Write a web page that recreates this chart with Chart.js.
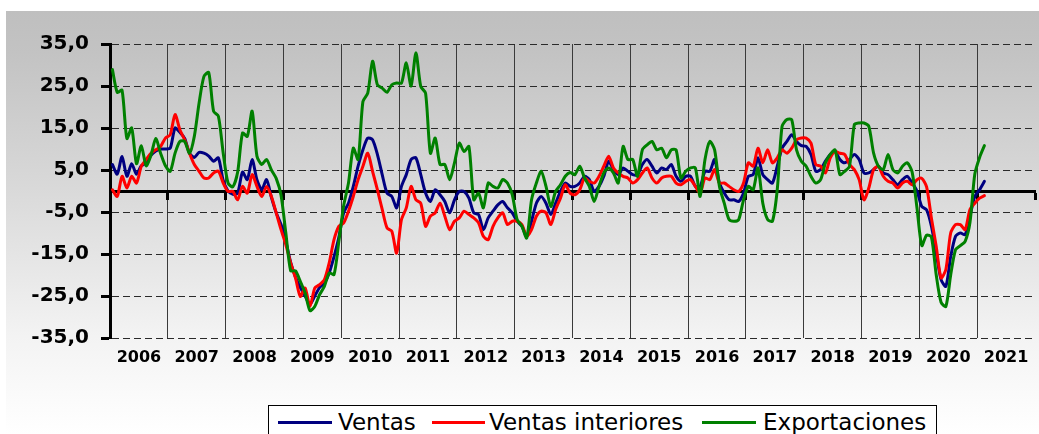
<!DOCTYPE html>
<html>
<head>
<meta charset="utf-8">
<script src="https://cdn.jsdelivr.net/npm/chart.js@4.4.1/dist/chart.umd.min.js"></script>
<style>
  html, body { margin: 0; padding: 0; background: #fff; }
  #wrap { position: relative; width: 1039px; height: 434px; overflow: hidden; }
  #bg {
    position: absolute; left: 6px; top: 11px; width: 1033px; height: 423px;
    background: linear-gradient(to bottom, #bfbfbf 0%, #c3c3c3 10%, #d9d9d9 42%, #f3f3f3 77%, #ffffff 100%);
  }
  #chart { position: absolute; left: 0; top: 0; }
  #legend {
    position: absolute; left: 268px; top: 405px; width: 669px; height: 40px;
    box-sizing: border-box; border: 1px solid #000; background: #fff;
    font-family: 'DejaVu Sans', sans-serif; font-size: 23px; color: #000;
  }
  #legend .sw { position: absolute; top: 15px; height: 3px; }
  #legend .lb { position: absolute; top: 3px; white-space: nowrap; }
</style>
</head>
<body>
<div id="wrap">
  <div id="bg"></div>
  <canvas id="chart" width="1039" height="434"></canvas>
  <div id="legend">
    <span class="sw" style="left:9px;width:54px;background:#000080"></span>
    <span class="lb" style="left:69px">Ventas</span>
    <span class="sw" style="left:163px;width:53px;background:#ff0000"></span>
    <span class="lb" style="left:220px">Ventas interiores</span>
    <span class="sw" style="left:433px;width:54px;background:#008000"></span>
    <span class="lb" style="left:494px">Exportaciones</span>
  </div>
</div>
<script>
  // años del eje (datos mensuales ene-2006 .. feb-2021)
  const years = ['2006', '2007', '2008', '2009', '2010', '2011', '2012', '2013',
                 '2014', '2015', '2016', '2017', '2018', '2019', '2020', '2021'];
  const yTicks = [-35, -25, -15, -5, 5, 15, 25, 35];

  const ventas = [
    6.3, 4.0, 8.2, 3.5, 6.5, 4.0, 6.0, 6.7, 8.5, 9.5, 10.0, 10.0,
    10.2, 15.0, 14.0, 12.5, 9.0, 8.0, 9.2, 9.0, 8.3, 7.1, 7.9, 2.5,
    0.0, -0.8, -0.5, 4.5, 2.7, 7.5, 2.7, 0.3, 2.7, -1.5, -5.2, -8.0,
    -12.0, -17.0, -20.5, -23.0, -25.0, -27.0, -25.0, -23.0, -22.0, -19.5, -15.6, -11.0,
    -5.2, -2.9, 1.1, 5.9, 9.8, 12.6, 12.2, 8.7, 3.9, -0.5, -1.3, -4.0,
    1.1, 3.9, 7.5, 7.9, 3.9, -0.5, -2.5, 0.3, -0.9, -2.5, -5.2, -2.1,
    -0.1, -0.1, -1.7, -5.2, -5.6, -9.2, -6.4, -4.8, -3.3, -2.5, -4.0, -5.2,
    -7.2, -8.4, -10.8, -7.2, -2.9, -1.3, -2.9, -5.6, -2.9, -0.1, 1.9, 1.1,
    1.1, 1.9, 3.5, 2.7, -0.1, 1.1, 3.5, 7.1, 5.1, 3.9, 5.5, 4.7,
    3.9, 3.9, 6.3, 7.5, 5.9, 4.3, 5.5, 5.1, 6.3, 3.5, 2.3, 3.5,
    3.5, 1.1, 1.1, 4.7, 4.7, 7.5, 1.9, -0.5, -2.1, -2.1, -2.5, -0.5,
    3.5, 3.9, 7.9, 3.9, 2.7, 1.9, 5.9, 10.2, 11.8, 13.4, 11.8, 10.8,
    10.6, 8.7, 4.7, 5.1, 7.1, 8.7, 9.4, 7.5, 6.7, 7.5, 8.7, 7.5,
    4.3, 4.3, 5.1, 5.9, 4.3, 3.9, 2.7, 1.5, 2.7, 3.5, 1.9, 0.0,
    -3.7, -4.5, -8.4, -14.8, -21.1, -22.7, -15.6, -10.8, -10.0, -10.4, -6.0, -1.3,
    0.3, 2.3
  ];

  const ventasInteriores = [
    0.3, -1.3, 3.5, 0.7, 3.5, 1.9, 5.9, 7.5, 9.0, 9.8, 10.6, 12.6,
    13.4, 18.2, 14.6, 12.2, 9.0, 6.3, 4.7, 3.1, 3.1, 4.3, 4.7, 1.9,
    -0.1, -0.1, -2.1, 1.1, -0.5, 3.9, 1.1, -1.3, 1.1, -1.3, -5.2, -9.2,
    -12.8, -17.1, -20.7, -25.1, -23.1, -27.5, -23.1, -22.3, -21.1, -17.1, -11.6, -8.4,
    -7.6, -4.8, -1.3, 2.7, 5.9, 9.0, 4.7, 0.3, -4.4, -8.8, -9.6, -14.8,
    -6.8, -4.0, 1.1, -2.1, -2.9, -8.4, -6.0, -5.2, -2.9, -6.0, -9.2, -7.2,
    -6.4, -4.8, -5.6, -6.4, -7.6, -10.8, -11.6, -8.4, -6.4, -5.2, -8.0, -7.2,
    -7.2, -8.0, -10.8, -9.2, -6.0, -4.8, -5.2, -8.0, -4.4, -1.7, 1.5, -0.5,
    -0.9, 0.3, 3.1, 2.3, 1.9, 3.5, 5.9, 8.3, 5.5, 4.3, 3.5, 3.1,
    1.9, 2.7, 4.3, 5.5, 3.1, 1.9, 3.1, 3.5, 3.5, 1.9, 1.5, 2.3,
    2.7, 1.1, -0.5, 3.1, 2.7, 5.1, 1.9, 1.9, 1.1, 0.3, -0.1, 1.9,
    6.7, 5.9, 10.2, 6.7, 9.8, 6.7, 7.9, 9.8, 9.0, 10.2, 12.2, 12.6,
    12.6, 11.4, 6.3, 5.9, 4.3, 7.9, 9.4, 9.0, 8.7, 6.3, 5.1, 2.7,
    -2.1, 0.7, 5.1, 5.9, 3.5, 2.3, 1.9, 0.7, 1.9, 2.3, 1.5, 2.7,
    3.0, 1.0, -6.5, -13.2, -20.7, -18.7, -10.0, -8.0, -8.0, -9.2, -4.4, -2.9,
    -1.7, -1.1
  ];

  const exportaciones = [
    28.9, 23.5, 24.0, 12.5, 15.0, 6.5, 10.8, 6.0, 8.5, 12.5, 9.0, 6.0,
    4.7, 9.0, 11.8, 11.8, 9.0, 13.0, 21.0, 27.3, 28.2, 19.0, 17.8, 9.0,
    1.9, 1.0, 4.5, 13.8, 13.0, 19.0, 8.3, 6.3, 7.5, 5.0, 3.0, -1.0,
    -10.0, -19.0, -19.0, -21.5, -24.3, -28.5, -27.5, -24.7, -22.7, -19.5, -19.9, -12.0,
    -3.5, 1.9, 10.2, 7.5, 21.3, 23.3, 30.9, 25.3, 24.5, 23.5, 25.3, 25.7,
    25.7, 30.5, 25.0, 32.9, 24.9, 23.3, 9.0, 12.6, 6.3, 6.3, 2.7, 6.7,
    11.4, 9.4, 10.6, -2.1, -0.5, -4.0, 1.9, 1.1, 0.7, 2.7, 1.9, -0.9,
    -6.8, -8.4, -11.2, -2.1, 1.9, 4.7, 1.1, -3.7, -0.1, 1.5, 3.5, 4.4,
    3.9, 5.9, 3.1, 1.1, -2.5, 1.1, 4.3, 5.5, 4.3, 1.9, 10.6, 7.5,
    7.5, 3.5, 9.8, 11.0, 11.8, 9.8, 10.2, 7.9, 9.8, 9.8, 3.1, 4.7,
    5.5, 5.5, -1.3, 7.5, 11.8, 9.8, 1.1, -2.9, -6.8, -7.2, -6.8, -2.1,
    1.1, 0.3, 5.5, -2.9, -6.8, -7.2, 0.3, 15.4, 17.0, 17.0, 9.8, 7.1,
    5.9, 3.5, 1.9, 2.7, 6.7, 8.7, 9.8, 3.9, 4.7, 5.9, 15.8, 16.2,
    16.2, 15.4, 9.0, 5.9, 5.1, 8.7, 5.1, 4.3, 5.9, 6.7, 4.5, -4.0,
    -13.0, -10.5, -11.0, -20.0, -26.5, -27.5, -20.0, -14.0, -13.0, -12.0, -7.5, 4.0,
    8.0, 10.8
  ];

  const nMonths = years.length * 12;
  const toPoints = arr => arr.map((v, i) => ({ x: i + 0.5, y: v }));
  const boldFont = size => ({ family: "'DejaVu Sans', sans-serif", weight: 'bold', size: size });

  new Chart(document.getElementById('chart'), {
    type: 'line',
    data: {
      datasets: [
        { label: 'Ventas', data: toPoints(ventas), borderColor: '#000080', order: 3, xAxisID: 'x', yAxisID: 'y' },
        { label: 'Ventas interiores', data: toPoints(ventasInteriores), borderColor: '#ff0000', order: 2, xAxisID: 'x', yAxisID: 'y' },
        { label: 'Exportaciones', data: toPoints(exportaciones), borderColor: '#008000', order: 1, xAxisID: 'x', yAxisID: 'y' },
      ],
    },
    options: {
      responsive: false,
      animation: false,
      layout: { padding: { top: 44, right: 4, bottom: 0, left: 0 } },
      elements: {
        line: { borderWidth: 3, tension: 0.25, fill: false, borderJoinStyle: 'round', borderCapStyle: 'round' },
        point: { radius: 0 },
      },
      plugins: { legend: { display: false }, tooltip: { enabled: false } },
      scales: {
        x: {
          type: 'linear', min: 0, max: nMonths,
          afterBuildTicks: s => { s.ticks = years.flatMap((y, k) => [{ value: k * 12 }, { value: k * 12 + 6 }]); },
          afterFit: s => { s.height = 96; },
          grid: {
            color: c => (c.tick && c.tick.value % 12 === 0 && c.tick.value > 0) ? '#3a3a3a' : 'rgba(0,0,0,0)',
            lineWidth: 1,
            drawTicks: false,
          },
          border: { display: false },
          ticks: {
            autoSkip: false, maxRotation: 0, padding: 10, color: '#000', font: boldFont(16),
            callback: v => (v % 12 === 6 ? years[(v - 6) / 12] : ''),
          },
        },
        zero: {
          type: 'linear', axis: 'x', position: { y: 0 }, min: 0, max: nMonths,
          afterBuildTicks: s => { s.ticks = years.map((y, k) => ({ value: (k + 1) * 12 })); },
          grid: { drawOnChartArea: false, drawTicks: true, tickLength: 7, tickWidth: 3, tickColor: '#000' },
          border: { display: true, color: '#000', width: 3 },
          ticks: { display: false },
        },
        y: {
          min: -35, max: 35,
          afterBuildTicks: s => { s.ticks = yTicks.map(v => ({ value: v })); },
          afterFit: s => { s.width = 110; },
          grid: { color: '#2a2a2a', lineWidth: 1, tickLength: 9, tickWidth: 3, tickColor: '#000' },
          border: { display: true, color: '#000', width: 3, dash: [7, 4] },
          ticks: {
            color: '#000', padding: 12, font: boldFont(20),
            callback: v => v.toFixed(1).replace('.', ','),
          },
        },
      },
    },
  });
</script>
</body>
</html>
